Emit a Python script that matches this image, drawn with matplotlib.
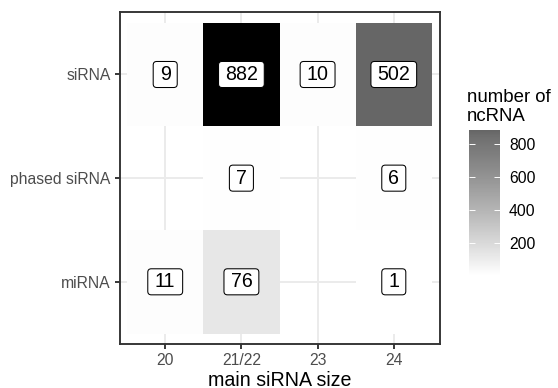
import numpy as np
import matplotlib.pyplot as plt
from matplotlib.cm import ScalarMappable
from matplotlib.colors import ListedColormap, Normalize
from matplotlib.patches import BoxStyle

plt.rcParams['font.family'] = ['Liberation Sans', 'DejaVu Sans']

sizes = ['20', '21/22', '23', '24']
types = ['miRNA', 'phased siRNA', 'siRNA']  # bottom to top

mirna = [11, 76, np.nan, 1]
phased_sirna = [np.nan, 7, np.nan, 6]
sirna = [9, 882, 10, 502]

counts = np.ma.masked_invalid(np.array([mirna, phased_sirna, sirna], dtype=float))

# white -> black, linear in CIE L* (like ggplot's Lab gradient)
L = np.linspace(100, 0, 256)
Y = np.where(L > 8, ((L + 16) / 116) ** 3, L / 903.3)
g = np.where(Y <= 0.0031308, 12.92 * Y, 1.055 * Y ** (1 / 2.4) - 0.055)
grey_lab = ListedColormap(np.column_stack([g, g, g]))
# the legend bar is drawn washed out
gb = 1 - 0.6 * (1 - g)
grey_bar = ListedColormap(np.column_stack([gb, gb, gb]))
norm = Normalize(vmin=np.nanmin(counts), vmax=np.nanmax(counts))


def label_box(n):
    # rounded label box sized from the number of digits, like geom_label
    def box(x0, y0, width, height, mutation_size):
        cx, cy = x0 + width / 2, y0 + height / 2
        w = (0.673 + 0.554 * n) * mutation_size
        h = 1.33 * mutation_size
        return BoxStyle.Round(pad=0, rounding_size=0.18)(
            cx - w / 2, cy - h / 2, w, h, mutation_size)
    return box


fig = plt.figure(figsize=(5.58, 3.88), dpi=100)
ax = fig.add_axes([119.5 / 558, 44 / 388, 320 / 558, 331.7 / 388])

xe = np.arange(len(sizes) + 1) + 0.5
ye = np.arange(len(types) + 1) + 0.5
mesh = ax.pcolormesh(xe, ye, counts, cmap=grey_lab, norm=norm, zorder=1)

for j in range(len(types)):
    for i in range(len(sizes)):
        v = counts[j, i]
        if np.ma.is_masked(v):
            continue
        s = str(int(v))
        ax.text(i + 1, j + 1, s, ha='center', va='center', fontsize=14.1,
                color='black', zorder=3,
                bbox=dict(boxstyle=label_box(len(s)), fc='white', ec='black', lw=0.75))

ax.set_xlim(0.4, len(sizes) + 0.6)
ax.set_ylim(0.4, len(types) + 0.6)
ax.set_xticks(range(1, len(sizes) + 1))
ax.set_xticklabels(sizes)
ax.set_yticks(range(1, len(types) + 1))
ax.set_yticklabels(types)
ax.set_axisbelow(True)
ax.grid(color='#ebebeb', lw=1.4)
for sp in ax.spines.values():
    sp.set_color('#333333')
    sp.set_linewidth(1.37)
ax.tick_params(length=3.5, width=1.37, color='#333333', labelsize=11.3,
               labelcolor='#4d4d4d', pad=2.8)
ax.set_xlabel('main siRNA size', fontsize=14.1, labelpad=2)

cax = fig.add_axes([469 / 558, (388 - 275.4) / 388, 31 / 558, 145 / 388])
cb = fig.colorbar(ScalarMappable(norm=norm, cmap=grey_bar), cax=cax,
                  ticks=[200, 400, 600, 800])
cb.outline.set_visible(False)
cb.minorticks_off()
cax.tick_params(direction='in', color='white', length=4.3, width=0.7,
                left=True, right=True, labelsize=11.3, pad=6.5)
fig.text(467 / 558, 1 - 89.5 / 388, 'number of\nncRNA', ha='left', va='top',
         fontsize=13.4, linespacing=1.1)

fig.savefig('out.png', dpi=100)
